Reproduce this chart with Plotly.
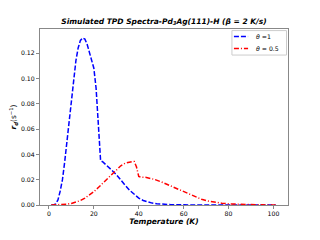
import plotly.graph_objects as go

# Blue series: theta = 1
t_full = [1, 2, 3, 4, 5, 6, 7, 8, 9, 10, 11, 12, 13, 14, 15, 16, 17, 18, 19, 20,
          21, 22, 23, 24, 25, 26, 28, 30, 32, 34, 36, 38, 40, 42, 44, 46, 48, 50,
          54, 60, 70, 80, 90, 101]
r_full = [0.0, 0.0, 0.0008, 0.004, 0.011, 0.020, 0.034, 0.051, 0.068, 0.085,
          0.101, 0.114, 0.124, 0.130, 0.132, 0.131, 0.127, 0.121, 0.115, 0.108,
          0.092, 0.061, 0.035, 0.034, 0.0325, 0.031, 0.0275, 0.024, 0.0195, 0.0155,
          0.0115, 0.0082, 0.0055, 0.0036, 0.0023, 0.0015, 0.0010, 0.0006,
          0.0003, 0.0001, 0.00003, 0.0, 0.0, 0.0]

# Red series: theta = 0.5
t_half = [1, 5, 8, 10, 12, 14, 16, 18, 20, 22, 24, 26, 28, 30, 32, 34, 36, 37, 38,
          39, 40, 41, 43, 45, 47, 50, 53, 56, 59, 62, 65, 68, 71, 74, 77, 80, 85,
          90, 95, 101]
r_half = [0.0, 0.0002, 0.0006, 0.0012, 0.0022, 0.0035, 0.0055, 0.0078, 0.0105,
          0.0138, 0.0172, 0.0208, 0.0245, 0.028, 0.031, 0.033, 0.034, 0.0343,
          0.0343, 0.030, 0.0225, 0.022, 0.0219, 0.0212, 0.0202, 0.0183, 0.016,
          0.0135, 0.011, 0.0085, 0.0063, 0.0045, 0.0031, 0.0021, 0.0014, 0.0009,
          0.0005, 0.0003, 0.0001, 0.0]

series_names = ["<i>θ</i> =1", "<i>θ</i> = 0.5"]
series_colors = ["#0000ff", "#ff0000"]
series_dash = ["5px,2px", "5px,2px,1px,2px"]

x_ticks = [0, 20, 40, 60, 80, 100]
y_ticks = [0.00, 0.02, 0.04, 0.06, 0.08, 0.10, 0.12]

FONT = "DejaVu Sans"
AX = "#888888"

# page body has an 8px margin; figure sized to fit the 320x240 window
W, H = 312, 232

fig = go.Figure()
for (tx, ry), nm, col, ds in zip([(t_full, r_full), (t_half, r_half)],
                                 series_names, series_colors, series_dash):
    fig.add_trace(go.Scatter(x=tx, y=ry, mode="lines", name=nm, showlegend=False,
                             line=dict(color=col, width=1.5, dash=ds)))

# Compact legend (matplotlib style)
fig.add_shape(type="rect", xref="paper", yref="paper", x0=0.774, x1=0.994,
              y0=0.852, y1=0.991, line=dict(color="#cccccc", width=1),
              fillcolor="white", layer="above")
for i, (nm, col, ds) in enumerate(zip(series_names, series_colors, series_dash)):
    yy = 0.957 - i * 0.068
    fig.add_shape(type="line", xref="paper", yref="paper", x0=0.782, x1=0.839,
                  y0=yy, y1=yy, line=dict(color=col, width=1.5, dash=ds), layer="above")
    fig.add_annotation(xref="paper", yref="paper", x=0.863, y=yy, text=nm,
                       showarrow=False, xanchor="left", yanchor="middle",
                       font=dict(family=FONT, size=6.2, color="black"))

fig.update_layout(
    width=W, height=H,
    margin=dict(l=32, r=32, t=21, b=35, autoexpand=False),
    paper_bgcolor="white", plot_bgcolor="white",
    font=dict(family=FONT, size=6.2, color="black"),
    title=dict(text="Simulated TPD Spectra-Pd<sub>3</sub>Ag(111)-H (β = 2 K/s)",
               x=156 / W, xanchor="center", y=1 - 13 / H, yanchor="middle",
               font=dict(family=FONT, size=7.5, weight="bold", style="italic")),
    showlegend=False,
)
fig.update_xaxes(range=[-4, 106.5], tickvals=x_ticks, ticks="outside", ticklen=3,
                 tickcolor=AX, showline=True, linecolor=AX, mirror=True,
                 showgrid=False, zeroline=False, automargin=False,
                 title=dict(text="Temperature (K)", standoff=2,
                            font=dict(family=FONT, size=7.5, weight="bold", style="italic")))
fig.update_yaxes(range=[0, 0.139], tickvals=y_ticks, tickformat=".2f", ticks="outside",
                 ticklen=3, tickcolor=AX, showline=True, linecolor=AX, mirror=True,
                 showgrid=False, zeroline=False, automargin=False,
                 title=dict(text="<b><i>r<sub>d</sub></i></b>(s<sup>−1</sup>)", standoff=4,
                            font=dict(family=FONT, size=7.5)))

fig.write_html("out.html")
